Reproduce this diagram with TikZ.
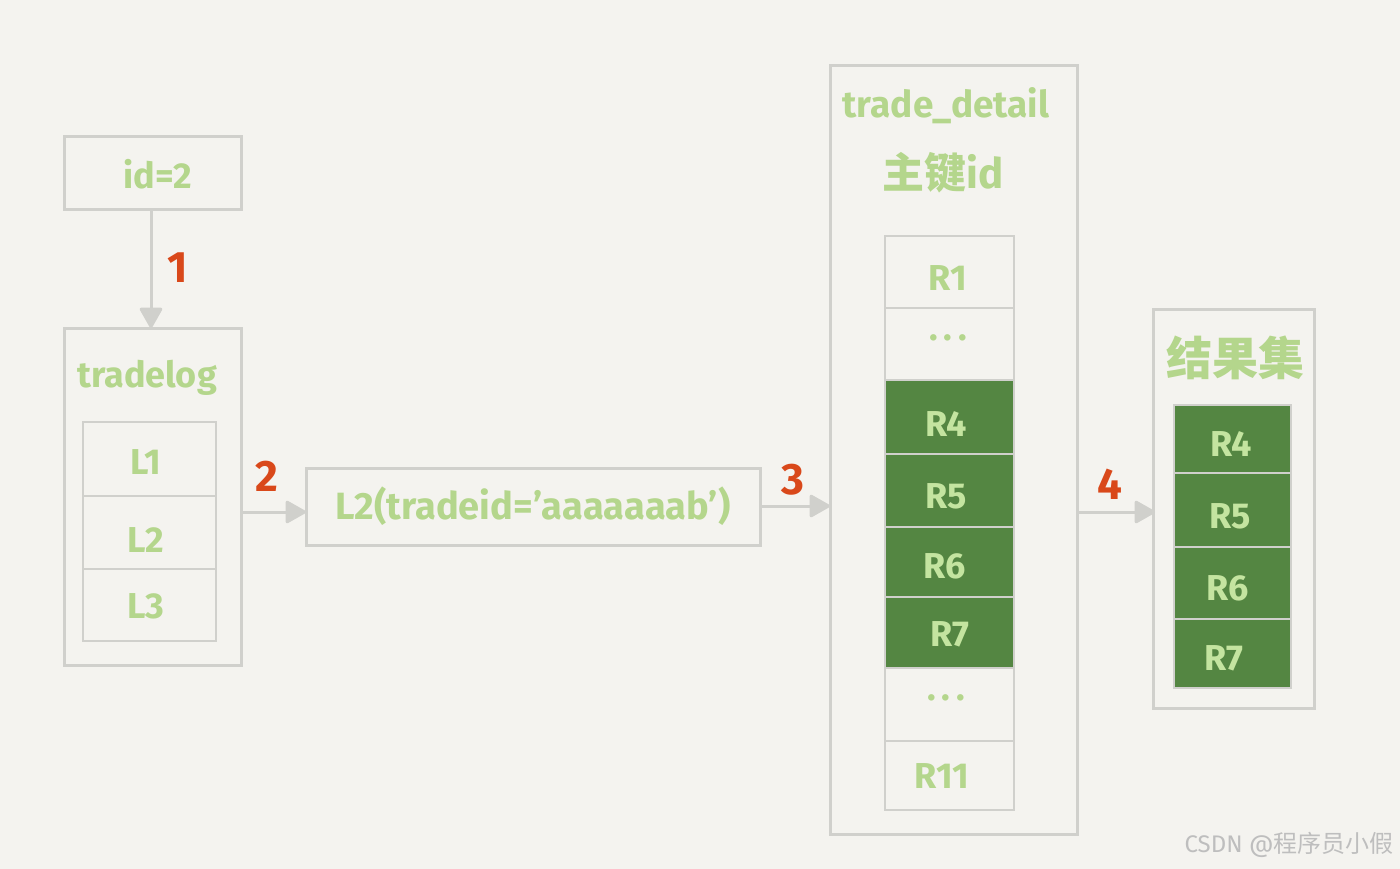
\documentclass[tikz,border=0pt]{standalone}
\usepackage{fontspec}
\setmainfont{Fira Sans}
\newfontfamily\cjk{Noto Sans CJK SC}
\usetikzlibrary{arrows.meta}
\definecolor{bgc}{RGB}{244,243,239}
\definecolor{linec}{RGB}{208,208,204}
\definecolor{txtg}{RGB}{180,214,140}
\definecolor{txtl}{RGB}{196,228,160}
\definecolor{darkg}{RGB}{84,134,66}
\definecolor{numc}{RGB}{217,72,26}
\definecolor{wm}{RGB}{190,190,190}
\tikzset{
  frame/.style={draw=linec,line width=3pt},
  cell/.style={draw=linec,line width=2.6pt},
  gcell/.style={draw=linec,line width=2.6pt,fill=darkg},
  lbl/.style={text=txtg,font=\bfseries\fontsize{36}{36}\selectfont},
  glbl/.style={text=txtl,font=\bfseries\fontsize{36}{36}\selectfont},
  num/.style={text=numc,font=\bfseries\fontsize{44}{44}\selectfont},
  conn/.style={draw=linec,line width=3pt,-{Triangle[length=22pt,width=24pt,round]}},
}
\begin{document}
\begin{tikzpicture}[x=1pt,y=-1pt]
\fill[bgc] (0,0) rectangle (1400,869);
\useasboundingbox (0,0) rectangle (1400,869);
% id=2
\draw[frame] (64,137) rectangle (241,210);
\node[lbl] (idn) at (158,174) {id=2};
\coordinate (idb) at (151,210);
% tradelog
\draw[frame] (64,328) rectangle (241,665);
\coordinate (tlt) at (151,328);
\node[lbl] (tl) at (147,378) {tradelog};
\draw[cell] (83,422) rectangle (216,496);
\draw[cell] (83,496) rectangle (216,569);
\draw[cell] (83,569) rectangle (216,641);
\node[lbl] (l1) at (146,462) {L1};
\node[lbl] (l2) at (146,540) {L2};
\node[lbl] (l3) at (146,606) {L3};
\coordinate (tlr) at (241,512);
% arrow 1
\draw[conn] (idb) -- (tlt);
\node[num] (n1) at (178,268) {1};
% L2 box
\draw[frame] (306,468) rectangle (760,545);
\coordinate (l2l) at (306,512);
\coordinate (l2r) at (760,506);
\node[lbl,font=\bfseries\fontsize{38}{38}\selectfont] (l2t) at (533,506) {L2(tradeid='aaaaaaab')};
\draw[conn] (tlr) -- (l2l);
\node[num] (n2) at (267,476) {2};
% trade_detail
\draw[frame] (830,66) rectangle (1077,834);
\coordinate (tdl) at (830,506);
\coordinate (tdr) at (1077,512);
\node[lbl,font=\bfseries\fontsize{37}{37}\selectfont] (tdt) at (946,106) {trade\_detail};
\node[lbl,font=\bfseries\fontsize{42}{42}\selectfont] (tdk) at (943,173) {{\cjk\bfseries 主键}id};
\draw[cell] (885,236) rectangle (1014,308);
\draw[cell] (885,308) rectangle (1014,380);
\draw[gcell] (885,380) rectangle (1014,454);
\draw[gcell] (885,454) rectangle (1014,527);
\draw[gcell] (885,527) rectangle (1014,597);
\draw[gcell] (885,597) rectangle (1014,668);
\draw[cell] (885,668) rectangle (1014,741);
\draw[cell] (885,741) rectangle (1014,810);
\node[lbl] (r1) at (948,278) {R1};
\node[lbl] (rd1) at (948,338) {.\,.\,.};
\node[glbl] (r4) at (946,424) {R4};
\node[glbl] (r5) at (946,496) {R5};
\node[glbl] (r6) at (945,566) {R6};
\node[glbl] (r7) at (950,634) {R7};
\node[lbl] (rd2) at (946,698) {.\,.\,.};
\node[lbl] (r11) at (942,776) {R11};
\draw[conn] (l2r) -- (tdl);
\node[num] (n3) at (793,480) {3};
% result
\draw[frame] (1153,309) rectangle (1314,708);
\coordinate (rsl) at (1155,512);
\node[lbl,font=\fontsize{46}{46}\selectfont] (rst) at (1235,358) {\cjk\bfseries 结果集};
\draw[gcell] (1174,405) rectangle (1291,473);
\draw[gcell] (1174,473) rectangle (1291,547);
\draw[gcell] (1174,547) rectangle (1291,619);
\draw[gcell] (1174,619) rectangle (1291,688);
\node[glbl] (s4) at (1231,444) {R4};
\node[glbl] (s5) at (1230,516) {R5};
\node[glbl] (s6) at (1228,588) {R6};
\node[glbl] (s7) at (1224,658) {R7};
\draw[conn] (tdr) -- (rsl);
\node[num] (n4) at (1110,484) {4};
% watermark
\node[text=wm,font=\fontsize{24}{24}\selectfont,anchor=east] (wmk) at (1397,845) {CSDN @{\cjk 程序员小假}};
\end{tikzpicture}
\end{document}
